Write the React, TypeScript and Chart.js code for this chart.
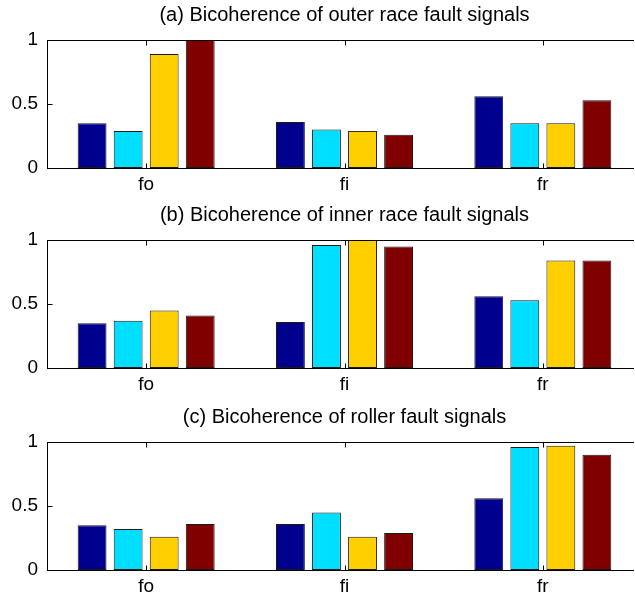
import React, { useEffect, useRef } from "react";
import { Chart, registerables } from "chart.js";

Chart.register(...registerables);

const categories = ["fo", "fi", "fr"];
const yTicks = [0, 0.5, 1];
const yTickLabels = ["0", "0.5", "1"];
const barColors = ["#00008F", "#00DFFF", "#FFCF00", "#800000"];

const titleA = "(a) Bicoherence of outer race fault signals";
const titleB = "(b) Bicoherence of inner race fault signals";
const titleC = "(c) Bicoherence of roller fault signals";

const outerS1 = [0.35, 0.36, 0.56];
const outerS2 = [0.29, 0.3, 0.35];
const outerS3 = [0.89, 0.29, 0.35];
const outerS4 = [1.0, 0.26, 0.53];

const innerS1 = [0.35, 0.36, 0.56];
const innerS2 = [0.37, 0.96, 0.53];
const innerS3 = [0.45, 1.0, 0.84];
const innerS4 = [0.41, 0.95, 0.84];

const rollerS1 = [0.35, 0.36, 0.56];
const rollerS2 = [0.32, 0.45, 0.96];
const rollerS3 = [0.26, 0.26, 0.97];
const rollerS4 = [0.36, 0.29, 0.9];

const FONT = "'Liberation Sans', Arial, Helvetica, sans-serif";
const TICK_SIZE = 19;
const TITLE_SIZE = 20;
const VISIBLE_W = 635;

const framePlugin = {
  id: "frame",
  afterDraw(chart: any, _args: any, opts: any) {
    const { ctx, chartArea: a, scales } = chart;
    ctx.save();
    ctx.strokeStyle = "#000";
    ctx.lineWidth = 1;
    ctx.lineCap = "butt";
    const L = Math.round(a.left) + 0.5;
    const T = Math.round(a.top) + 0.5;
    const B = Math.round(a.bottom) + 0.5;
    const E = VISIBLE_W - 1;
    ctx.beginPath();
    ctx.moveTo(L, T);
    ctx.lineTo(E, T);
    ctx.stroke();
    ctx.beginPath();
    ctx.moveTo(L, B);
    ctx.lineTo(E, B);
    ctx.stroke();
    ctx.beginPath();
    ctx.moveTo(L, T - 0.5);
    ctx.lineTo(L, B + 0.5);
    scales.x.ticks.forEach((_t: any, i: number) => {
      const x = Math.round(scales.x.getPixelForTick(i)) + 0.5;
      ctx.moveTo(x, B);
      ctx.lineTo(x, B - 5);
      ctx.moveTo(x, T);
      ctx.lineTo(x, T + 5);
    });
    yTicks.forEach((v) => {
      const y = Math.round(scales.y.getPixelForValue(v)) + 0.5;
      ctx.moveTo(L, y);
      ctx.lineTo(L + 5, y);
    });
    ctx.stroke();
    ctx.fillStyle = "#000";
    ctx.font = `${TITLE_SIZE}px ${FONT}`;
    ctx.textAlign = "center";
    ctx.textBaseline = "alphabetic";
    ctx.fillText(opts.title || "", (a.left + a.right) / 2, a.top - 19);
    ctx.restore();
  },
};

function Panel({ title, series, top }: { title: string; series: number[][]; top: number }) {
  const ref = useRef<HTMLCanvasElement | null>(null);
  useEffect(() => {
    if (!ref.current) return;
    const chart = new Chart(ref.current, {
      type: "bar",
      data: {
        labels: categories,
        datasets: series.map((d, i) => ({
          label: "s" + (i + 1),
          data: d,
          backgroundColor: barColors[i],
          borderColor: "#1a1a1a",
          borderWidth: 1,
          borderSkipped: false,
          categoryPercentage: 0.727,
          barPercentage: 0.8,
        })),
      },
      options: {
        responsive: false,
        animation: false,
        devicePixelRatio: 1,
        layout: { padding: { top: 40, right: 8, left: 0, bottom: 0 } },
        plugins: {
          legend: { display: false },
          tooltip: { enabled: false },
          frame: { title },
        } as any,
        scales: {
          x: {
            type: "category",
            offset: true,
            grid: { display: false, drawTicks: false },
            border: { display: false },
            ticks: {
              color: "#000",
              padding: 5,
              maxRotation: 0,
              font: { family: FONT, size: TICK_SIZE },
            },
            afterFit: (s: any) => {
              s.height = 32;
            },
          },
          y: {
            min: 0,
            max: 1,
            afterBuildTicks: (s: any) => {
              s.ticks = yTicks.map((v) => ({ value: v }));
            },
            grid: { display: false, drawTicks: false },
            border: { display: false },
            ticks: {
              color: "#000",
              padding: 9,
              font: { family: FONT, size: TICK_SIZE },
              callback: (_v: any, i: number) => yTickLabels[i],
            },
            afterFit: (s: any) => {
              s.width = 47;
            },
          },
        },
      } as any,
      plugins: [framePlugin],
    });
    return () => chart.destroy();
  }, [title, series]);
  return (
    <canvas
      ref={ref}
      width={650}
      height={200}
      style={{ position: "absolute", left: 0, top, display: "block", width: 650, height: 200 }}
    />
  );
}

const outerSeries = [outerS1, outerS2, outerS3, outerS4];
const innerSeries = [innerS1, innerS2, innerS3, innerS4];
const rollerSeries = [rollerS1, rollerS2, rollerS3, rollerS4];

export default function App() {
  return (
    <div
      style={{
        position: "fixed",
        left: 0,
        top: 0,
        width: VISIBLE_W,
        height: 595,
        overflow: "hidden",
        background: "#fff",
      }}
    >
      <Panel title={titleA} series={outerSeries} top={0} />
      <Panel title={titleB} series={innerSeries} top={200} />
      <Panel title={titleC} series={rollerSeries} top={402} />
    </div>
  );
}
